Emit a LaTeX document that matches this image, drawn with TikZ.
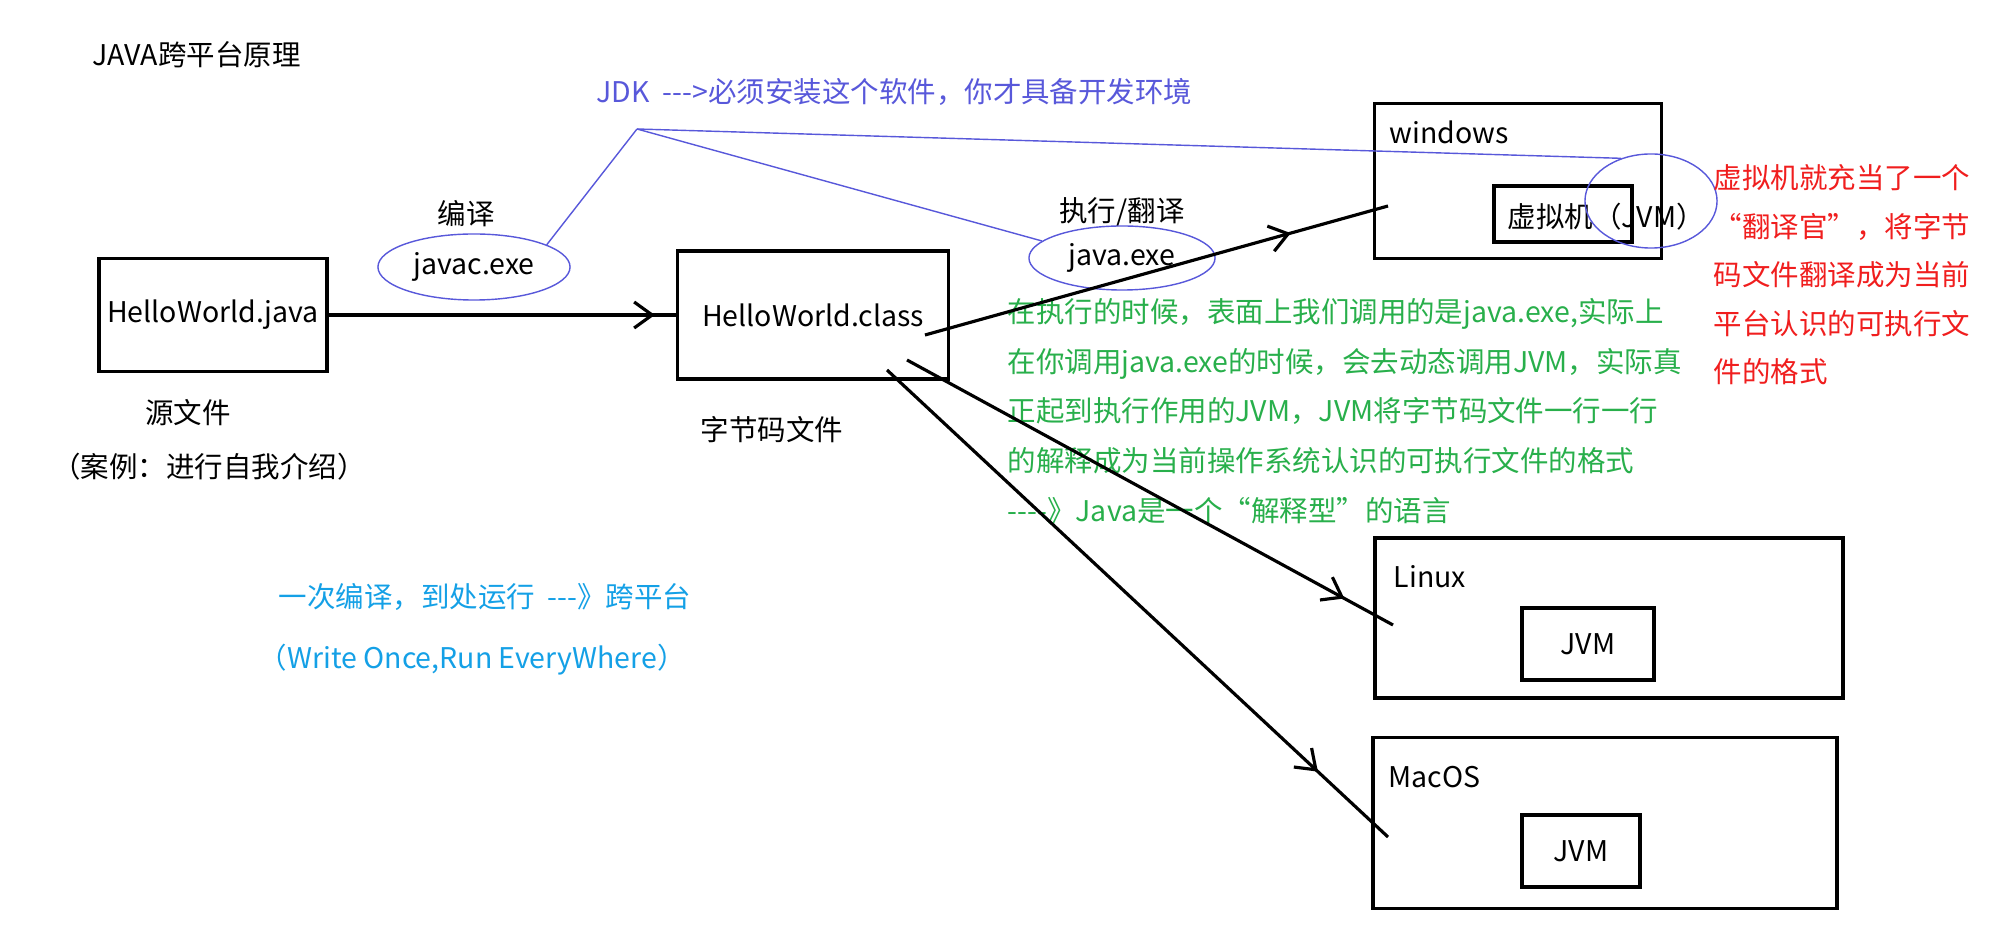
\documentclass[tikz,border=0pt]{standalone}
\usepackage{fontspec}
\setmainfont{Noto Sans CJK SC}
\usetikzlibrary{shapes.geometric,arrows.meta,decorations.markings}
\definecolor{jdkblue}{RGB}{88,88,218}
\definecolor{noteblue}{RGB}{20,160,230}
\definecolor{notegreen}{RGB}{40,175,75}
\definecolor{notered}{RGB}{240,30,30}

\begin{document}
\begin{tikzpicture}[x=0.01cm, y=-0.01cm,
  every node/.style={font=\fontsize{8.1}{14}\selectfont, inner sep=0pt},
  osbox/.style={draw, line width=1pt},
  ovalnote/.style={draw=jdkblue, ellipse, line width=0.4pt},
  jdkline/.style={color=jdkblue, line width=0.4pt},
  runline/.style={line width=0.9pt, postaction={decorate},
    decoration={markings, mark=at position #1 with {\arrow{Straight Barb[length=1.8mm,width=2.6mm,line width=0.9pt]}}}}]
\useasboundingbox (0,0) rectangle (2000,931);

% Title
\node[anchor=west] (title) at (92,55) {JAVA跨平台原理};

% JDK
\node[anchor=west, text=jdkblue] (jdk) at (596,92) {JDK\ \ -{}-{}->必须安装这个软件，你才具备开发环境};
\coordinate (jdkpt) at (637,129);

% Source file
\node[osbox, minimum width=22.8mm, minimum height=11.3mm] (hellojava) at (213,315) {HelloWorld.java};
\node (srclabel) at (188,413) {源文件};
\node (example) at (209,467) {（案例：进行自我介绍）};

% javac
\node (compile) at (466,214) {编译};
\node[ovalnote, minimum width=19.2mm, minimum height=6.6mm] (javac) at (474,267) {javac.exe};

% Byte code
\node[osbox, minimum width=27.1mm, minimum height=12.8mm] (helloclass) at (813,315) {HelloWorld.class};
\node (bytelabel) at (772,430) {字节码文件};

% java.exe
\node (runlabel) at (1122,212) {执行/翻译};
\node[ovalnote, minimum width=18.6mm, minimum height=6.4mm] (javaexe) at (1122,258) {java.exe};

% windows
\node[osbox, minimum width=28.7mm, minimum height=15.5mm] (windows) at (1518,181) {};
\node[anchor=west] (winname) at (1389,132) {windows};
\node[osbox, minimum width=13.8mm, minimum height=5.6mm] (winjvm) at (1563,214) {};
\node[anchor=west] (winjvmtext) at (1507,217) {虚拟机（JVM）};
\node[ovalnote, minimum width=13.2mm, minimum height=9.4mm] (jvmring) at (1651,201) {};

% Linux
\node[osbox, minimum width=46.8mm, minimum height=16mm] (linux) at (1609,618) {};
\node[anchor=west] (linuxname) at (1393,577) {Linux};
\node[osbox, minimum width=13.2mm, minimum height=7.2mm] (linuxjvm) at (1588,644) {JVM};

% MacOS
\node[osbox, minimum width=46.4mm, minimum height=17.1mm] (macos) at (1605,823) {};
\node[anchor=west] (macname) at (1388,777) {MacOS};
\node[osbox, minimum width=11.8mm, minimum height=7.2mm] (macjvm) at (1581,851) {JVM};

% Notes
\node[anchor=west, align=left, text=notered, font=\fontsize{8.1}{13.8}\selectfont] (rednote) at (1713,275)
  {虚拟机就充当了一个\\“翻译官”，将字节\\码文件翻译成为当前\\平台认识的可执行文\\件的格式};
\node[anchor=west, align=left, text=notegreen, font=\fontsize{8.1}{14.1}\selectfont] (greennote) at (1007,411)
  {在执行的时候，表面上我们调用的是java.exe,实际上\\在你调用java.exe的时候，会去动态调用JVM，实际真\\正起到执行作用的JVM，JVM将字节码文件一行一行\\的解释成为当前操作系统认识的可执行文件的格式\\-{}-{}-{}-》Java是一个“解释型”的语言};
\node[anchor=west, text=noteblue] (slogan) at (278,597) {一次编译，到处运行\ \ -{}-{}-》跨平台};
\node[anchor=west, text=noteblue] (sloganen) at (258,660) {（Write Once,Run EveryWhere）};

% Arrows
\coordinate (clsa) at (925,335);
\coordinate (clsb) at (907,360);
\coordinate (clsc) at (887,370);
\coordinate (towin) at (1388,206);
\coordinate (tolinux) at (1393,625);
\coordinate (tomac) at (1388,837);
\draw[runline=0.94] (hellojava) -- (helloclass);
\draw[runline=0.79] (clsa) -- (towin);
\draw[runline=0.9] (clsb) -- (tolinux);
\draw[runline=0.86] (clsc) -- (tomac);

% JDK lines
\draw[jdkline] (jdkpt) -- (javac.17);
\draw[jdkline] (jdkpt) -- (javaexe.168);
\draw[jdkline] (jdkpt) -- (jvmring.125);
\end{tikzpicture}
\end{document}
